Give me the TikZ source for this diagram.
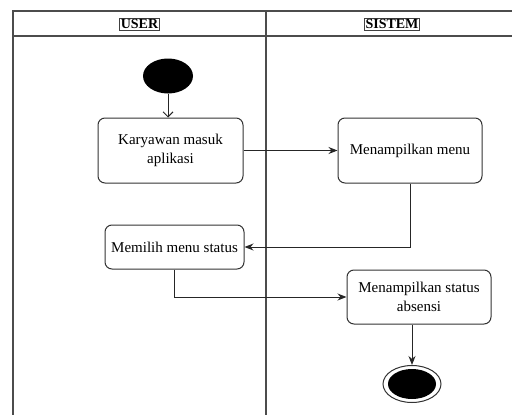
\documentclass[tikz,border=0pt]{standalone}
\usepackage{fontspec}
\setmainfont{Liberation Serif}
\usetikzlibrary{arrows.meta,shapes.geometric}
\tikzset{
  lane/.style={draw=black!70, line width=1.1pt},
  lanetitle/.style={draw=black!75, line width=0.7pt, inner sep=1.2pt, font=\fontsize{14}{16}\selectfont\bfseries},
  act/.style={draw=black!80, line width=1pt, rounded corners=7pt, align=center, inner sep=0pt, font=\fontsize{15}{19}\selectfont},
  flow/.style={draw=black!85, line width=1pt, -{Stealth[length=9pt,width=7pt]}},
}
\begin{document}
\begin{tikzpicture}[x=1pt,y=-1pt]
        \useasboundingbox (0,0) rectangle (512,415);
        \clip (0,0) rectangle (512,415);
        % swimlanes
        \draw[lane] (13,430)--(13,11)--(530,11);
        \draw[lane] (13,36)--(530,36);
        \draw[lane] (266,11)--(266,430);
        \node[lanetitle] (user) at (139.5,24) {USER};
        \node[lanetitle] (sistem) at (392,24) {SISTEM};
        % activities
        \node[ellipse, fill=black, minimum width=50pt, minimum height=35pt, inner sep=0pt] (start) at (168,76) {};
        \node[act, minimum width=145pt, minimum height=65pt] (masuk) at (170.5,150.5) {Karyawan masuk\\aplikasi};
        \node[act, minimum width=144pt, minimum height=65pt] (menu) at (410,150.5) {Menampilkan menu};
        \node[act, minimum width=139pt, minimum height=44pt] (pilih) at (174.5,247) {Memilih menu status};
        \node[act, minimum width=144pt, minimum height=54pt] (status) at (419,297) {Menampilkan status\\absensi};
        \node[ellipse, draw=black!80, line width=1pt, minimum width=58pt, minimum height=37pt, inner sep=0pt] (stop) at (412,384) {};
        \node[ellipse, fill=black, minimum width=48pt, minimum height=30pt, inner sep=0pt] at (stop) {};
        % flows
        \draw[draw=black!85, line width=1pt, -{Straight Barb[length=5pt,width=10pt]}] (start) -- (start |- masuk.north);
        \draw[flow] (masuk.east) -- (menu.west);
        \draw[flow] (menu.south) |- (pilih.east);
        \draw[flow] (pilih.south) |- (status.west);
        \draw[flow] (status.south -| stop.north) -- (stop.north);
\end{tikzpicture}
\end{document}
